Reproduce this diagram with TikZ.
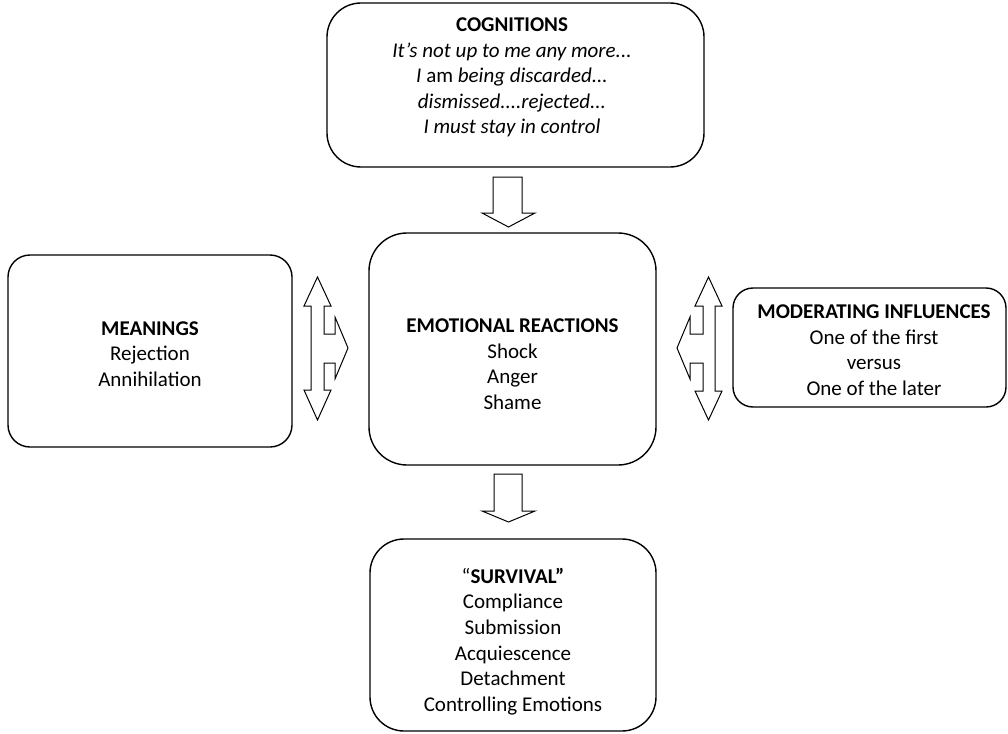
\documentclass[tikz,border=0pt]{standalone}
\usepackage{fontspec}
\setmainfont{Carlito}
\begin{document}
\begin{tikzpicture}[x=1pt,y=-1pt,
  box/.style={draw=black, line width=1.4pt, rounded corners=#1, inner sep=0pt},
  box/.default=34pt,
  txt/.style={align=center, font=\fontsize{21}{25.6}\selectfont, inner sep=0pt},
  blockarrow/.style={draw=black, line width=1pt, fill=white, line join=miter}]
\useasboundingbox (0,0) rectangle (1008,733);

% frames
\node[box, minimum width=377pt, minimum height=164pt] (cog) at (515.5,85) {};
\node[box=38pt, minimum width=287pt, minimum height=232pt] (emo) at (512.5,349) {};
\node[box=22pt, minimum width=284pt, minimum height=192pt] (mean) at (150,351) {};
\node[box=20pt, minimum width=273pt, minimum height=119pt] (mod) at (869.5,347.5) {};
\node[box, minimum width=286pt, minimum height=192pt] (surv) at (513,635) {};

% texts
\node[txt] (cogtxt) at (512,77.5) {\textbf{COGNITIONS}\\
  \textit{It’s not up to me any more...}\\
  \textit{I} am \textit{being discarded...}\\
  \textit{dismissed....rejected...}\\
  \textit{I must stay in control}};
\node[txt] (emotxt) at (512.5,364) {\textbf{EMOTIONAL REACTIONS}\\Shock\\Anger\\Shame};
\node[txt] (meantxt) at (150,354) {\textbf{MEANINGS}\\Rejection\\Annihilation};
\node[txt] (modtxt) at (874,350) {\textbf{MODERATING INFLUENCES}\\One of the first\\versus\\One of the later};
\node[txt] (survtxt) at (513,641.5) {“\textbf{SURVIVAL”}\\Compliance\\Submission\\Acquiescence\\Detachment\\Controlling Emotions};

% block arrows: cognitions -> emotional reactions -> survival
\draw[blockarrow] (493,177) -- (522,177) -- (522,213) -- (535,213) -- (508.5,227)
  -- (482,213) -- (493,213) -- cycle;
\draw[blockarrow] (494,474) -- (522,474) -- (522,511) -- (535,511) -- (508.5,522)
  -- (482,511) -- (494,511) -- cycle;

% meanings <-> emotional reactions
\draw[blockarrow] (317.5,277) -- (331,306) -- (324,306) -- (324,334) -- (335,334)
  -- (335,317) -- (348,348) -- (335,379) -- (335,363) -- (324,363) -- (324,390)
  -- (331,390) -- (317.5,420) -- (304,390) -- (311,390) -- (311,306) -- (304,306) -- cycle;

% moderating influences <-> emotional reactions
\draw[blockarrow] (708.5,277) -- (722,306) -- (715,306) -- (715,391) -- (722,391)
  -- (708.5,420) -- (695,391) -- (703,391) -- (703,363) -- (690,363) -- (690,379)
  -- (677,348) -- (690,317) -- (690,334) -- (703,334) -- (703,306) -- (695,306) -- cycle;
\end{tikzpicture}
\end{document}
